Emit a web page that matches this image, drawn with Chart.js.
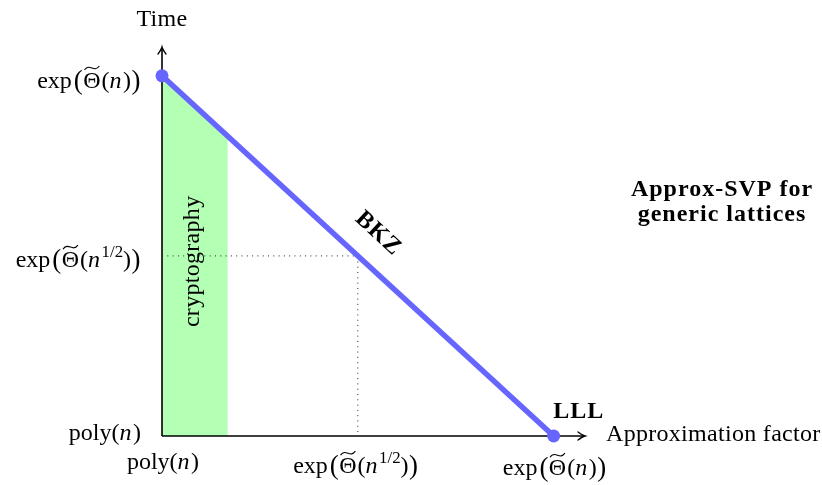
<!DOCTYPE html>
<html>
<head>
<meta charset="utf-8">
<script src="https://cdn.jsdelivr.net/npm/chart.js@4.4.1/dist/chart.umd.min.js"></script>
<style>
  html, body { margin: 0; padding: 0; background: #ffffff; }
  #wrap { width: 822px; height: 485px; position: relative; }
</style>
</head>
<body>
<div id="wrap"><canvas id="c"></canvas></div>
<script>
// Tick positions and their labels (mini math markup: ~ puts a tilde over the next
// character, ^{..} is a superscript, n is set in italics, [ ] are enlarged
// parentheses and a blank is a hair space).
const xTickValues = [0, 0.5, 1];
const xTickLabels = ['poly(n)', 'exp [~Θ(n^{1/2})]', 'exp [~Θ(n)]'];
const yTickValues = [0, 0.5, 1];
const yTickLabels = ['poly(n)', 'exp [~Θ(n^{1/2})]', 'exp [~Θ(n)]'];

// BKZ trade-off line, from exact SVP (top) down to LLL (bottom right).
const bkzX = [0, 1];
const bkzY = [1, 0];

// Region relevant for cryptography (filled under the BKZ line).
const cryptoX = [0, 0.168];
const cryptoTop = [1, 0.832];

// Dotted guide through the middle of the trade-off.
const guideX = [0, 0.5, 0.5];
const guideY = [0.5, 0.5, 0];

const xTitle = 'Approximation factor';
const yTitle = 'Time';
const bkzLabel = 'BKZ';
const lllLabel = 'LLL';
const cryptoLabel = 'cryptography';
const panelTitle = ['Approx-SVP for', 'generic lattices'];

const SERIF = '"Liberation Serif", "Times New Roman", serif';
const FS = 24;
const BLUE = 'rgb(102,102,255)';
const GREEN = 'rgb(179,255,179)';

function pts(xs, ys) { return xs.map((x, i) => ({ x: x, y: ys[i] })); }

// --- small math text renderer -------------------------------------------
function parseMath(s) {
  const segs = [];
  let tilde = false;
  for (let i = 0; i < s.length; i++) {
    const ch = s[i];
    if (ch === '~') { tilde = true; continue; }
    if (ch === ' ') { segs.push({ t: '', space: 1.5 }); continue; }
    if (ch === '[' || ch === ']') {
      segs.push({ t: ch === '[' ? '(' : ')', big: true });
      continue;
    }
    if (ch === '^') {
      const end = s.indexOf('}', i);
      segs.push({ t: s.slice(i + 2, end), sup: true });
      i = end;
      continue;
    }
    segs.push({ t: ch, italic: ch === 'n', tilde: tilde });
    tilde = false;
  }
  return segs;
}
function segFont(seg) {
  const size = seg.sup ? FS * 0.7 : seg.big ? FS * 1.12 : FS;
  return (seg.italic ? 'italic ' : '') + size + 'px ' + SERIF;
}
function segAdvance(ctx, seg) {
  if (seg.space) return seg.space;
  ctx.font = segFont(seg);
  return ctx.measureText(seg.t).width + (seg.italic ? 1.5 : 0) + (seg.big ? 1 : 0) + (seg.tilde ? 1 : 0);
}
function drawMath(ctx, str, x, y, align) {
  const segs = parseMath(str);
  let w = 0;
  segs.forEach(s => { w += segAdvance(ctx, s); });
  let cx = align === 'right' ? x - w : align === 'center' ? x - w / 2 : x;
  ctx.save();
  ctx.textAlign = 'left';
  ctx.textBaseline = 'alphabetic';
  ctx.fillStyle = '#000';
  ctx.strokeStyle = '#000';
  segs.forEach(s => {
    if (s.space) { cx += s.space; return; }
    ctx.font = segFont(s);
    const sw = ctx.measureText(s.t).width;
    let yy = y;
    if (s.sup) yy = y - FS * 0.42;
    if (s.big) yy = y + 1.3;
    ctx.fillText(s.t, cx + (s.big ? 0.5 : 0), yy);
    if (s.tilde) {
      const x0 = cx + 1.2, x1 = cx + sw - 1.2, tw = x1 - x0;
      const yb = y - FS * 0.68 - 1.5;
      const yt = yb - 4;
      ctx.beginPath();
      ctx.lineWidth = 1.1;
      ctx.moveTo(x0, yb);
      ctx.bezierCurveTo(x0 + tw * 0.38, yt - 3.5, x0 + tw * 0.62, yb + 3.5, x1, yt);
      ctx.stroke();
    }
    cx += segAdvance(ctx, s);
  });
  ctx.restore();
}

// --- axes with arrow heads, drawn right after the filled region ------------
function arrowHead(ctx, tx, ty, dx, dy) {
  const px = -dy, py = dx;
  ctx.beginPath();
  ctx.moveTo(tx - dx * 7 + px * 4, ty - dy * 7 + py * 4);
  ctx.quadraticCurveTo(tx - dx * 2.5 + px * 0.6, ty - dy * 2.5 + py * 0.6, tx, ty);
  ctx.quadraticCurveTo(tx - dx * 2.5 - px * 0.6, ty - dy * 2.5 - py * 0.6, tx - dx * 7 - px * 4, ty - dy * 7 - py * 4);
  ctx.stroke();
}

const axesPlugin = {
  id: 'axesArrows',
  afterDatasetDraw(chart, args) {
    if (args.index !== 2) return;
    const ctx = chart.ctx;
    const xs = chart.scales.x, ys = chart.scales.y, area = chart.chartArea;
    const x0 = xs.getPixelForValue(0), y0 = ys.getPixelForValue(0);
    ctx.save();
    ctx.strokeStyle = '#000';
    ctx.lineWidth = 1.6;
    ctx.lineCap = 'butt';
    ctx.beginPath();
    ctx.moveTo(x0, y0);
    ctx.lineTo(area.right - 1, y0);
    ctx.moveTo(x0, y0);
    ctx.lineTo(x0, area.top + 1);
    ctx.stroke();
    ctx.lineWidth = 1.3;
    ctx.lineCap = 'round';
    arrowHead(ctx, area.right, y0, 1, 0);
    arrowHead(ctx, x0, area.top, 0, -1);
    ctx.restore();
  }
};

// --- labels ---------------------------------------------------------------
const labelPlugin = {
  id: 'labels',
  afterDraw(chart) {
    const ctx = chart.ctx;
    const xs = chart.scales.x, ys = chart.scales.y, area = chart.chartArea;
    const x0 = xs.getPixelForValue(0), y0 = ys.getPixelForValue(0);

    // tick labels
    const xBase = [33, 37, 39];
    xTickValues.forEach((v, i) => {
      drawMath(ctx, xTickLabels[i], xs.getPixelForValue(v) + (i === 1 ? -2 : 1), y0 + xBase[i], 'center');
    });
    const yBase = [4, 11, 12];
    yTickValues.forEach((v, i) => {
      drawMath(ctx, yTickLabels[i], x0 - 21, ys.getPixelForValue(v) + yBase[i], 'right');
    });

    ctx.save();
    ctx.fillStyle = '#000';
    ctx.textBaseline = 'alphabetic';

    // axis titles
    ctx.font = FS + 'px ' + SERIF;
    try { ctx.letterSpacing = '0.3px'; } catch (e) {}
    ctx.textAlign = 'center';
    ctx.fillText(yTitle, x0, area.top - 21);
    ctx.textAlign = 'left';
    ctx.fillText(xTitle, area.right + 21, y0 + 5);

    // cryptography, written upwards inside the green band
    const cx = (xs.getPixelForValue(cryptoX[0]) + xs.getPixelForValue(cryptoX[1])) / 2;
    ctx.save();
    ctx.translate(cx + 4, ys.getPixelForValue(0.485));
    ctx.rotate(-Math.PI / 2);
    ctx.textAlign = 'center';
    ctx.fillText(cryptoLabel, 0, 0);
    ctx.restore();

    // bold annotations
    ctx.font = 'bold ' + FS + 'px ' + SERIF;
    try { ctx.letterSpacing = '1px'; } catch (e) {}
    const ax = xs.getPixelForValue(bkzX[0]), ay = ys.getPixelForValue(bkzY[0]);
    const bx = xs.getPixelForValue(bkzX[1]), by = ys.getPixelForValue(bkzY[1]);
    const ang = Math.atan2(by - ay, bx - ax);
    const mx = (ax + bx) / 2, my = (ay + by) / 2;
    const nx = Math.sin(ang), ny = -Math.cos(ang);
    ctx.save();
    ctx.translate(mx + nx * 24, my + ny * 24);
    ctx.rotate(ang);
    ctx.textAlign = 'center';
    ctx.fillText(bkzLabel, 0, 0);
    ctx.restore();

    ctx.textAlign = 'center';
    ctx.fillText(lllLabel, bx + 25, by - 18);

    ctx.fillText(panelTitle[0], 722, 196);
    ctx.fillText(panelTitle[1], 722, 221);
    ctx.restore();
  }
};

new Chart(document.getElementById('c'), {
  type: 'scatter',
  data: {
    datasets: [
      {
        label: 'BKZ',
        data: pts(bkzX, bkzY),
        showLine: true,
        borderColor: BLUE,
        backgroundColor: BLUE,
        borderWidth: 5.5,
        pointRadius: 6.5,
        pointHoverRadius: 6.5,
        pointBorderWidth: 0,
        clip: false
      },
      {
        label: 'guide',
        data: pts(guideX, guideY),
        showLine: true,
        borderColor: '#222222',
        borderWidth: 1,
        borderDash: [1, 4.3],
        pointRadius: 0,
        clip: false
      },
      {
        label: 'cryptography',
        data: pts(cryptoX, cryptoTop),
        showLine: true,
        borderWidth: 0,
        borderColor: 'rgba(0,0,0,0)',
        backgroundColor: GREEN,
        fill: 'origin',
        pointRadius: 0,
        clip: false
      }
    ]
  },
  options: {
    responsive: true,
    maintainAspectRatio: false,
    animation: false,
    events: [],
    layout: { padding: { left: 162, right: 237, top: 47, bottom: 49 } },
    plugins: { legend: { display: false }, tooltip: { enabled: false } },
    scales: {
      x: { type: 'linear', min: 0, max: 1.08, display: false },
      y: { type: 'linear', min: 0, max: 1.08, display: false }
    }
  },
  plugins: [axesPlugin, labelPlugin]
});
</script>
</body>
</html>
